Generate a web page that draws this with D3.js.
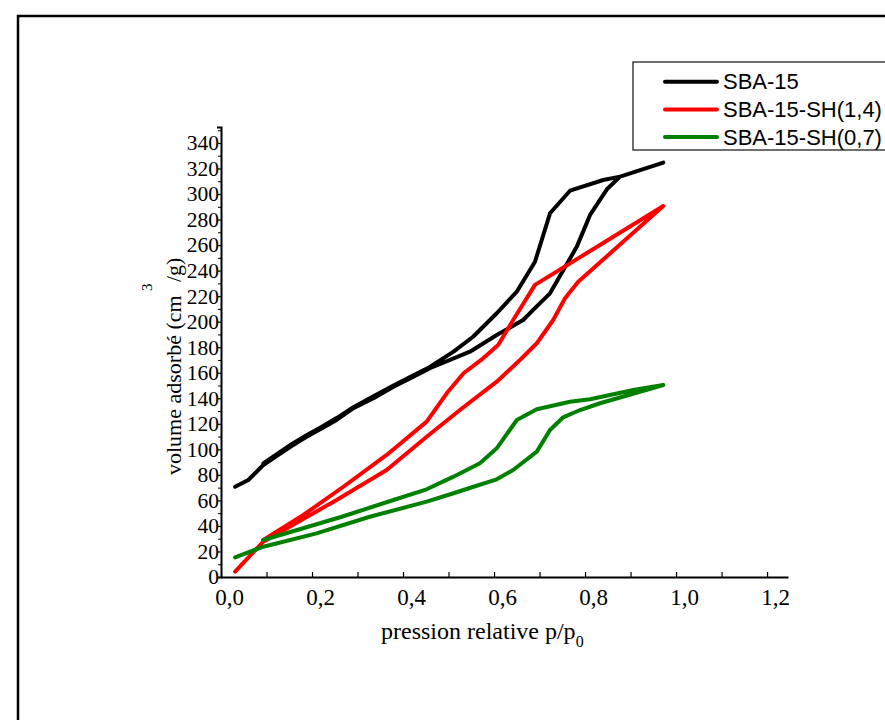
<!DOCTYPE html>
<html><head><meta charset="utf-8">
<script src="https://cdn.jsdelivr.net/npm/d3@7"></script>
<style>body{margin:0;background:#fff;overflow:hidden}</style>
</head><body>
<svg id="c" width="885" height="720"></svg>
<script>
// ---- data (p/p0, volume adsorbé cm3/g) ----
const seriesNames = ["SBA-15", "SBA-15-SH(1,4)", "SBA-15-SH(0,7)"];
const seriesColors = ["#000000", "#ff0000", "#008000"];

const sba15Adsorption = [[0.031,70.7],[0.060,76],[0.093,87.7],[0.126,95.6],[0.155,102.6],[0.188,109.9],[0.218,115.7],[0.254,123],[0.291,132.2],[0.335,140],[0.379,149.1],[0.423,156.9],[0.459,163.5],[0.547,176.5],[0.606,189.6],[0.664,201.3],[0.686,209.2],[0.723,222.2],[0.782,258.8],[0.811,283.6],[0.848,303.7],[0.877,313.6],[0.972,324.6]];
const sba15Desorption = [[0.972,324.6],[0.877,313.6],[0.840,311.0],[0.767,302.6],[0.723,284.9],[0.690,247.0],[0.650,223.5],[0.606,206.6],[0.554,188.2],[0.511,176.5],[0.459,164.5],[0.423,158],[0.379,150],[0.335,141.5],[0.291,133],[0.254,124.5],[0.218,117],[0.188,111],[0.155,104],[0.126,97],[0.093,89]];

const sh14Adsorption = [[0.031,4.2],[0.093,27.7],[0.254,60.3],[0.364,83.8],[0.452,109.9],[0.525,130.8],[0.606,153.0],[0.657,170.0],[0.694,183.1],[0.730,201.3],[0.756,218.3],[0.785,231.3],[0.972,290.6]];
const sh14Desorption = [[0.972,290.6],[0.690,228.8],[0.642,201.3],[0.609,181.7],[0.576,171.3],[0.533,159.6],[0.496,143.9],[0.452,121.7],[0.364,95.6],[0.269,70.7],[0.181,48.6],[0.093,29.0]];

const sh07Adsorption = [[0.031,15.4],[0.093,23.7],[0.210,34.2],[0.327,47.2],[0.452,59.0],[0.511,65.6],[0.555,70.7],[0.606,76.5],[0.642,83.8],[0.694,98.2],[0.723,115.2],[0.752,125.1],[0.789,130.8],[0.833,136.1],[0.972,150.4]];
const sh07Desorption = [[0.972,150.4],[0.906,146.5],[0.811,139.2],[0.767,137.3],[0.694,131.4],[0.650,123.0],[0.606,100.8],[0.569,89.1],[0.511,78.6],[0.452,68.7],[0.379,60.3],[0.262,46.8],[0.093,29.0]];

const xTickLabels = [0, 0.2, 0.4, 0.6, 0.8, 1.0, 1.2];
const xMinorTicks = [0.1, 0.3, 0.5, 0.7, 0.9, 1.1];
const yTickLabels = [0,20,40,60,80,100,120,140,160,180,200,220,240,260,280,300,320,340];
const yMinorTicks = [10,30,50,70,90,110,130,150,170,190,210,230,250,270,290,310,330,350];

const curves = [
  {name: seriesNames[0], color: seriesColors[0], pts: sba15Adsorption.concat(sba15Desorption)},
  {name: seriesNames[1], color: seriesColors[1], pts: sh14Adsorption.concat(sh14Desorption)},
  {name: seriesNames[2], color: seriesColors[2], pts: sh07Adsorption.concat(sh07Desorption)}
];

// ---- drawing ----
const svg = d3.select("#c");
svg.append("rect").attr("x",0).attr("y",0).attr("width",885).attr("height",720).attr("fill","#fff");

// outer frame
svg.append("rect").attr("x",18).attr("y",16).attr("width",900).attr("height",720)
  .attr("fill","none").attr("stroke","#000").attr("stroke-width",2.5);

const x = d3.scaleLinear().domain([0, 1.246]).range([221, 788]);
const y = d3.scaleLinear().domain([0, 352.5]).range([577, 127]);

const serif = "'Liberation Serif','Times New Roman',serif";
const sans = "'Liberation Sans',Arial,sans-serif";

// x axis
const gx = svg.append("g").attr("transform", `translate(0,${y(0)})`);
gx.call(d3.axisBottom(x).tickValues(xTickLabels.concat(xMinorTicks)).tickSize(-5).tickSizeOuter(0).tickFormat(""));
gx.select(".domain").attr("stroke-width",2);
gx.selectAll(".tick line").attr("stroke-width",1.2);
const gxl = svg.append("g").attr("transform", `translate(0,${y(0)})`);
gxl.call(d3.axisBottom(x).tickValues(xTickLabels).tickSize(0).tickPadding(12)
   .tickFormat(d => d3.format(".1f")(d).replace(".", ",")));
gxl.select(".domain").remove();
gxl.selectAll("text").attr("dx", 8).attr("font-family", serif).attr("font-size", 23).attr("fill","#000");

// y axis
const gy = svg.append("g").attr("transform", `translate(${x(0)},0)`);
gy.call(d3.axisLeft(y).tickValues(yTickLabels).tickSize(4).tickSizeOuter(4).tickFormat(d => d));
gy.select(".domain").attr("stroke-width",2);
gy.selectAll(".tick line").attr("stroke-width",1.2);
gy.selectAll("text").attr("x", -2).attr("font-family", serif).attr("font-size", 21.5).attr("fill","#000");
const gym = svg.append("g").attr("transform", `translate(${x(0)},0)`);
gym.call(d3.axisLeft(y).tickValues(yMinorTicks).tickSize(3).tickFormat(""));
gym.select(".domain").remove();

// axis titles
const xt = svg.append("text").attr("x", 381).attr("y", 639)
  .attr("font-family", serif).attr("font-size", 24).attr("fill","#000");
xt.append("tspan").text("pression relative p/p");
xt.append("tspan").attr("dy", 8).attr("font-size", 16).text("0");

svg.append("text").attr("transform","translate(181,475) rotate(-90)")
  .attr("font-family", serif).attr("font-size", 22).attr("fill","#000")
  .text("volume adsorbé (cm");
svg.append("text").attr("transform","translate(152,291) rotate(-90)")
  .attr("font-family", serif).attr("font-size", 15).attr("fill","#000").text("3");
svg.append("text").attr("transform","translate(181,282) rotate(-90)")
  .attr("font-family", serif).attr("font-size", 22).attr("fill","#000").text("/g)");

// curves
const line = d3.line().x(d => x(d[0])).y(d => y(d[1]));
svg.append("g").selectAll("path").data(curves).join("path")
  .attr("d", d => line(d.pts)).attr("fill","none").attr("stroke", d => d.color)
  .attr("stroke-width", 4).attr("stroke-linejoin","round").attr("stroke-linecap","round");

// legend
const lg = svg.append("g");
lg.append("rect").attr("x",633).attr("y",62).attr("width",280).attr("height",88)
  .attr("fill","#fff").attr("stroke","#222").attr("stroke-width",1.3);
const items = lg.selectAll("g.it").data(curves).join("g").attr("class","it")
  .attr("transform", (d,i) => `translate(0,${81.7 + i*27.7})`);
items.append("line").attr("x1",665).attr("x2",717).attr("y1",0).attr("y2",0)
  .attr("stroke", d => d.color).attr("stroke-width",4).attr("stroke-linecap","round");
items.append("text").attr("x",723).attr("y",7.5).attr("font-family", sans).attr("font-size",22)
  .attr("fill","#000").text(d => d.name);
</script>
</body></html>
